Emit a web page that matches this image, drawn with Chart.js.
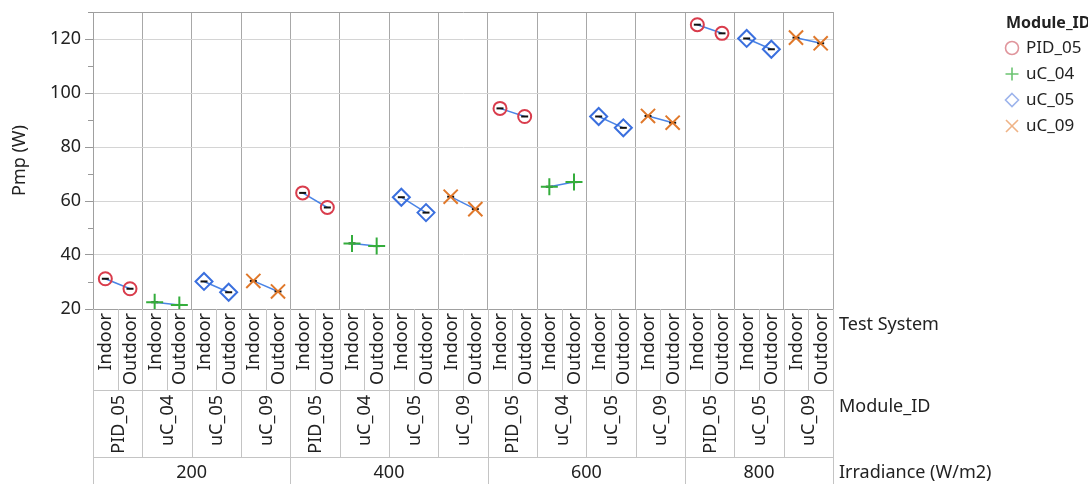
<!DOCTYPE html>
<html>
<head>
<meta charset="utf-8">
<script src="https://cdn.jsdelivr.net/npm/chart.js@4/dist/chart.umd.min.js"></script>
<style>
  html, body { margin: 0; padding: 0; background: #fff; }
  #wrap { width: 1088px; height: 484px; }
</style>
</head>
<body>
<div id="wrap"><canvas id="chart" width="1088" height="484"></canvas></div>
<script>
(function () {
  'use strict';

  const irradianceLevels = ['200', '400', '600', '800'];
  const moduleIds = ['PID_05', 'uC_04', 'uC_05', 'uC_09'];
  const testSystems = ['Indoor', 'Outdoor'];
  const yMajorTicks = [20, 40, 60, 80, 100, 120];

  // Pmp (W) per irradiance level, null = module not tested at that level
  const pid05Indoor  = [31.2, 63.0, 94.3, 125.3];
  const pid05Outdoor = [27.5, 57.6, 91.3, 122.1];
  const uc04Indoor   = [22.5, 44.3, 65.3, null];
  const uc04Outdoor  = [21.5, 43.3, 67.0, null];
  const uc05Indoor   = [30.2, 61.4, 91.3, 120.2];
  const uc05Outdoor  = [26.2, 55.7, 87.1, 116.2];
  const uc09Indoor   = [30.4, 61.6, 91.5, 120.5];
  const uc09Outdoor  = [26.5, 57.0, 89.0, 118.4];

  const seriesByModule = {
    'PID_05': [pid05Indoor, pid05Outdoor],
    'uC_04': [uc04Indoor, uc04Outdoor],
    'uC_05': [uc05Indoor, uc05Outdoor],
    'uC_09': [uc09Indoor, uc09Outdoor]
  };

  const moduleStyle = {
    'PID_05': { style: 'circle', color: '#d93c4c', light: '#e0959c', radius: 6.5 },
    'uC_04': { style: 'cross', color: '#34ad3c', light: '#6cc472', radius: 8.5 },
    'uC_05': { style: 'rectRot', color: '#3a6fde', light: '#9db4ec', radius: 8.5 },
    'uC_09': { style: 'crossRot', color: '#e0782a', light: '#efb386', radius: 10 }
  };

  const FONT = '"Noto Sans", "Open Sans", sans-serif';
  const TEXT = '#222';

  // lay the data out into columns: level > module > test system
  const cells = [];
  const pointsByModule = {};
  moduleIds.forEach(function (m) { pointsByModule[m] = []; });
  const linePts = [];
  const dashPts = [];
  let col = 0;
  irradianceLevels.forEach(function (lvl, li) {
    moduleIds.forEach(function (m) {
      const vals = seriesByModule[m].map(function (arr) { return arr[li]; });
      if (vals[0] == null) return;
      cells.push({ level: lvl, module: m, start: col });
      vals.forEach(function (v, ti) {
        const p = { x: col + ti + 0.5, y: v };
        pointsByModule[m].push(p);
        linePts.push(p);
        dashPts.push(p);
      });
      linePts.push({ x: col + 2, y: null });
      col += 2;
    });
  });
  const nCols = col;

  const levelSpans = irradianceLevels.map(function (lvl) {
    const c = cells.filter(function (k) { return k.level === lvl; });
    return { level: lvl, start: c[0].start, end: c[c.length - 1].start + 2 };
  });

  function drawMarker(ctx, style, x, y, r) {
    ctx.beginPath();
    if (style === 'circle') {
      ctx.arc(x, y, r, 0, Math.PI * 2);
    } else if (style === 'cross') {
      ctx.moveTo(x - r, y); ctx.lineTo(x + r, y);
      ctx.moveTo(x, y - r); ctx.lineTo(x, y + r);
    } else if (style === 'rectRot') {
      ctx.moveTo(x, y - r); ctx.lineTo(x + r, y); ctx.lineTo(x, y + r); ctx.lineTo(x - r, y); ctx.closePath();
    } else {
      const d = r * Math.SQRT1_2;
      ctx.moveTo(x - d, y - d); ctx.lineTo(x + d, y + d);
      ctx.moveTo(x + d, y - d); ctx.lineTo(x - d, y + d);
    }
    ctx.stroke();
  }

  const tablePlugin = {
    id: 'varTable',
    afterDraw: function (chart) {
      const ctx = chart.ctx;
      const a = chart.chartArea;
      const xs = chart.scales.x;
      const ys = chart.scales.y;
      const y0 = a.bottom, y1 = y0 + 81, y2 = y1 + 67, y3 = chart.height;
      const px = function (v) { return Math.round(xs.getPixelForValue(v)) + 0.5; };

      ctx.save();
      // minor y ticks
      ctx.strokeStyle = '#999';
      ctx.lineWidth = 1;
      for (let v = 30; v <= 130; v += 20) {
        const yy = Math.round(ys.getPixelForValue(v)) + 0.5;
        ctx.beginPath(); ctx.moveTo(a.left - 5, yy); ctx.lineTo(a.left, yy); ctx.stroke();
      }

      // table grid
      ctx.strokeStyle = '#c4c4c4';
      ctx.beginPath();
      [y1, y2].forEach(function (yy) {
        ctx.moveTo(a.left, yy + 0.5); ctx.lineTo(a.right, yy + 0.5);
      });
      for (let c = 0; c <= nCols; c++) {
        ctx.moveTo(px(c), y0); ctx.lineTo(px(c), y1);
      }
      cells.forEach(function (k) {
        ctx.moveTo(px(k.start), y1); ctx.lineTo(px(k.start), y2);
      });
      ctx.moveTo(px(nCols), y1); ctx.lineTo(px(nCols), y2);
      levelSpans.forEach(function (s) {
        ctx.moveTo(px(s.start), y2); ctx.lineTo(px(s.start), y3);
      });
      ctx.moveTo(px(nCols), y2); ctx.lineTo(px(nCols), y3);
      ctx.stroke();

      ctx.fillStyle = TEXT;
      ctx.font = '18px ' + FONT;
      ctx.textBaseline = 'middle';
      // test system row
      for (let c = 0; c < nCols; c++) {
        ctx.save();
        ctx.translate(xs.getPixelForValue(c + 0.5) + 1, y0 + 4);
        ctx.rotate(-Math.PI / 2);
        ctx.textAlign = 'right';
        ctx.fillText(testSystems[c % 2], 0, 0);
        ctx.restore();
      }
      // module row
      cells.forEach(function (k) {
        ctx.save();
        ctx.translate(xs.getPixelForValue(k.start + 1) + 1, y1 + 5);
        ctx.rotate(-Math.PI / 2);
        ctx.textAlign = 'right';
        ctx.fillText(k.module, 0, 0);
        ctx.restore();
      });
      // irradiance row
      ctx.textAlign = 'center';
      levelSpans.forEach(function (s) {
        ctx.fillText(s.level, xs.getPixelForValue((s.start + s.end) / 2), y2 + 16);
      });
      // row titles
      ctx.textAlign = 'left';
      ctx.fillText('Test System', a.right + 6, y0 + 16);
      ctx.fillText('Module_ID', a.right + 6, y1 + 17);
      ctx.fillText('Irradiance (W/m2)', a.right + 6, y2 + 16);

      // legend
      ctx.font = 'bold 16px ' + FONT;
      ctx.fillText('Module_ID', 1006, 23);
      ctx.font = '17px ' + FONT;
      moduleIds.forEach(function (m, i) {
        const yy = 48 + i * 26;
        const st = moduleStyle[m];
        ctx.strokeStyle = st.light;
        ctx.lineWidth = 1.6;
        drawMarker(ctx, st.style, 1012, yy, st.style === 'crossRot' ? 8.5 : 6.5);
        ctx.fillStyle = TEXT;
        ctx.fillText(m, 1026, yy);
      });
      ctx.restore();
    }
  };

  const datasets = [];
  moduleIds.forEach(function (m) {
    const st = moduleStyle[m];
    datasets.push({
      type: 'scatter',
      label: m,
      data: pointsByModule[m],
      pointStyle: st.style,
      pointRadius: st.radius,
      pointBorderWidth: 2,
      pointBorderColor: st.color,
      pointBackgroundColor: 'rgba(0,0,0,0)',
      order: 0
    });
  });
  datasets.push({
    type: 'scatter',
    label: 'mean',
    data: dashPts,
    pointStyle: 'line',
    pointRadius: 3.5,
    pointBorderWidth: 2,
    pointBorderColor: '#111',
    order: 1
  });
  datasets.push({
    type: 'line',
    label: 'connect',
    data: linePts,
    borderColor: '#4a84e6',
    borderWidth: 1.5,
    pointRadius: 0,
    spanGaps: false,
    order: 2
  });

  new Chart(document.getElementById('chart'), {
    data: { datasets: datasets },
    options: {
      responsive: false,
      animation: false,
      devicePixelRatio: 1,
      layout: { padding: { left: 0, top: 12, right: 255, bottom: 0 } },
      plugins: { legend: { display: false }, tooltip: { enabled: false } },
      scales: {
        x: {
          type: 'linear',
          min: 0,
          max: nCols,
          afterBuildTicks: function (scale) {
            const t = [];
            for (let v = 0; v <= nCols; v += 2) t.push({ value: v });
            scale.ticks = t;
          },
          afterFit: function (scale) { scale.height = 175; },
          ticks: { display: false },
          grid: { color: '#a8a8a8', drawTicks: false },
          border: { color: '#a0a0a0' }
        },
        y: {
          min: 20,
          max: 130,
          afterBuildTicks: function (scale) {
            scale.ticks = yMajorTicks.concat([130]).map(function (v) { return { value: v }; });
          },
          afterFit: function (scale) {
            scale.width = 93;
            scale.paddingTop = 0;
            scale.paddingBottom = 0;
          },
          ticks: {
            color: TEXT,
            font: { family: FONT, size: 18 },
            padding: 4,
            callback: function (v) { return yMajorTicks.indexOf(v) >= 0 ? String(v) : ''; }
          },
          grid: {
            tickLength: 8,
            color: function (c) {
              const v = c.tick && c.tick.value;
              if (v === 130 || v === 20) return '#a0a0a0';
              return '#d4d4d4';
            },
            tickColor: function (c) {
              return c.tick && c.tick.value === 130 ? 'rgba(0,0,0,0)' : '#999';
            }
          },
          border: { color: '#a0a0a0' },
          title: {
            display: true,
            text: 'Pmp (W)',
            color: TEXT,
            font: { family: FONT, size: 18 },
            padding: { top: 9, bottom: 0 }
          }
        }
      }
    },
    plugins: [tablePlugin]
  });
})();
</script>
</body>
</html>
